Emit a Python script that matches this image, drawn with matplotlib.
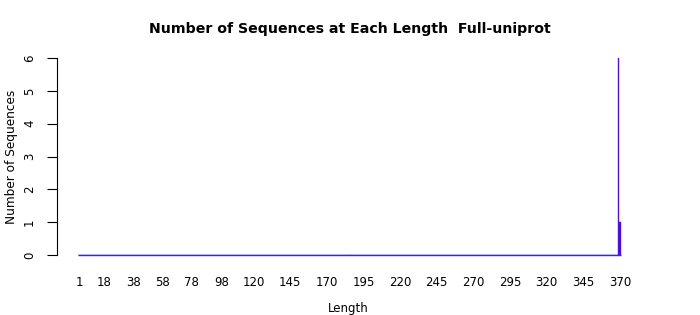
import numpy as np
import matplotlib
matplotlib.use("Agg")
import matplotlib.pyplot as plt

# sequence lengths and how many sequences have each length
lengths = np.arange(1, 371)
nonzero = {369: 6, 370: 1}
counts = np.array([nonzero.get(l, 0) for l in lengths])

xtick_labels = [1, 18, 38, 58, 78, 98, 120, 145, 170, 195, 220, 245, 270, 295, 320, 345, 370]
ytick_labels = [0, 1, 2, 3, 4, 5, 6]

bar_fill = '#7000b0'
bar_edge = '#2828ff'

W, H = 700, 315
fig = plt.figure(figsize=(W / 100, H / 100), dpi=100, facecolor='w')
# axes box in pixels: left 57, right 640, top 58, bottom 255
ax = fig.add_axes([57 / W, (H - 255) / H, (640 - 57) / W, (255 - 58) / H])

ax.bar(lengths, counts, width=1.0, color=bar_fill, edgecolor=bar_edge, linewidth=0.3,
       clip_on=False)
# the empty bars collapse into one line along zero
ax.hlines(0, lengths[0] - 0.5, lengths[-1] + 0.5, color=bar_edge, linewidth=1.0, clip_on=False)

px_per_unit = (620 - 79) / (370 - 1)
ax.set_xlim(1 - (79 - 57) / px_per_unit, 370 + (640 - 620) / px_per_unit)
ax.set_ylim(0, 6)

for s in ['top', 'right', 'bottom']:
    ax.spines[s].set_visible(False)
ax.spines['left'].set_linewidth(0.8)

ax.set_xticks(xtick_labels)
ax.set_xticklabels([str(v) for v in xtick_labels], fontsize=8.5)
ax.tick_params(axis='x', length=0, pad=15)
ax.set_yticks(ytick_labels)
ax.set_yticklabels([str(v) for v in ytick_labels], fontsize=8.5, rotation=90, va='center')
ax.tick_params(axis='y', length=7, width=0.8, pad=8)

ax.set_xlabel("Length", fontsize=8.5)
ax.xaxis.set_label_coords(0.5, -47 / 197)
ax.set_ylabel("Number of Sequences", fontsize=8.7, labelpad=4)
fig.text(350 / W, 1 - 29 / H, "Number of Sequences at Each Length  Full-uniprot",
         ha='center', va='center', fontsize=10.2, fontweight='bold')

fig.savefig("out.png", dpi=100)
